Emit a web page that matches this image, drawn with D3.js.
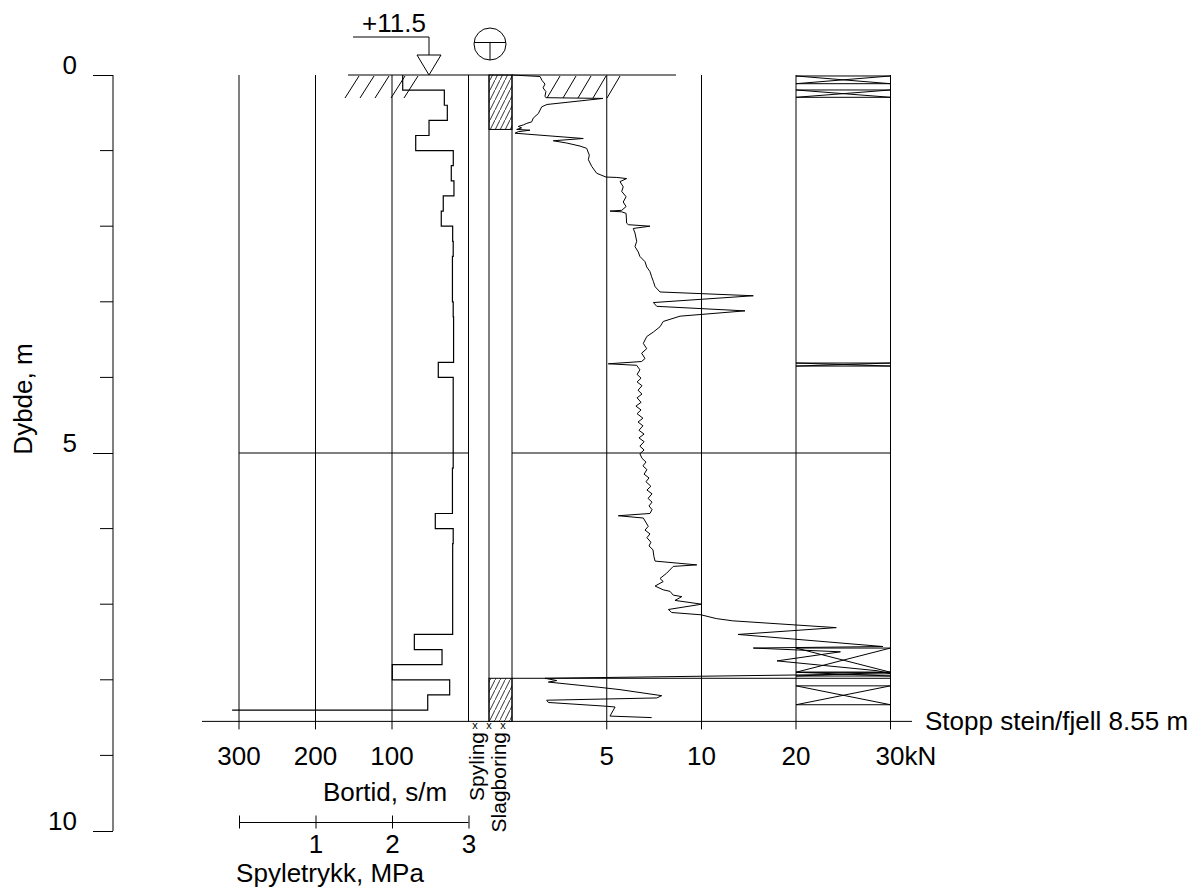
<!DOCTYPE html>
<html>
<head>
<meta charset="utf-8">
<script src="https://cdn.jsdelivr.net/npm/d3@7"></script>
<style>
  body { margin: 0; background: #fff; }
  svg { display: block; font-family: "Liberation Sans", Arial, sans-serif; }
  text { fill: #000; }
</style>
</head>
<body>
<svg id="canvas"></svg>
<script>
// depth axis
const depthMajor = [0, 5, 10];
const depthMinor = [1, 2, 3, 4, 6, 7, 8, 9];
const stopDepth = 8.55;

// bortid (s/m), one value per 0.2 m interval
const bortidDepth = [0, 0.2, 0.4, 0.6, 0.8, 1.0, 1.2, 1.4, 1.6, 1.8, 2.0, 2.2, 2.4, 2.6, 2.8, 3.0, 3.2, 3.4, 3.6, 3.8, 4.0,
  4.2, 4.4, 4.6, 4.8, 5.0, 5.2, 5.4, 5.6, 5.8, 6.0, 6.2, 6.4, 6.6, 6.8, 7.0, 7.2, 7.4, 7.6, 7.8, 8.0, 8.2, 8.4];
const bortidValue = [86, 31.6, 27.7, 51.6, 69, 19.9, 22.5, 19, 33, 35.6, 20.7, 20, 21, 21, 21, 20, 19.5, 19.5, 19.5, 39.5, 20,
  20, 20, 20, 20, 20, 21, 21, 21, 43.4, 20, 20.7, 20.7, 20.7, 20.7, 20.7, 20.7, 70.8, 34.6, 99.6, 24.6, 53.3, 309];

// nedpressingskraft (kN)
const forceDepth = [0, 0.02, 0.07, 0.12, 0.17, 0.22, 0.28, 0.30, 0.31, 0.39, 0.42, 0.51, 0.57, 0.62, 0.64, 0.66, 0.68,
  0.70, 0.72, 0.73, 0.75, 0.77, 0.84, 0.87, 0.90, 0.94, 0.97, 1.06, 1.12, 1.21, 1.30, 1.35, 1.355, 1.37, 1.41, 1.48,
  1.54, 1.61, 1.68, 1.74, 1.79, 1.80, 1.81, 1.83, 1.96, 1.98, 2.00, 2.03, 2.09, 2.20, 2.27, 2.34, 2.40, 2.47, 2.54,
  2.60, 2.67, 2.73, 2.80, 2.87, 2.92, 3.01, 3.06, 3.12, 3.19, 3.26, 3.33, 3.40, 3.46, 3.55, 3.62, 3.68, 3.75, 3.79,
  3.82, 3.84, 3.90, 3.96, 4.01, 4.06, 4.11, 4.17, 4.22, 4.27, 4.33, 4.38, 4.43, 4.48, 4.54, 4.59, 4.64, 4.70, 4.75,
  4.80, 4.85, 4.91, 4.96, 5.01, 5.07, 5.12, 5.17, 5.22, 5.28, 5.33, 5.38, 5.44, 5.49, 5.54, 5.60, 5.65, 5.70, 5.75,
  5.80, 5.83, 5.86, 5.97, 6.02, 6.07, 6.12, 6.18, 6.23, 6.28, 6.37, 6.43, 6.48, 6.50, 6.59, 6.66, 6.70, 6.76, 6.81,
  6.83, 6.88, 6.90, 6.95, 7.00, 7.07, 7.11, 7.14, 7.19, 7.22, 7.31, 7.40, 7.56, 7.58, 7.63, 7.75, 7.88, 7.92, 7.98,
  8.01, 8.03, 8.10, 8.13, 8.21, 8.24, 8.27, 8.30, 8.35, 8.36, 8.44, 8.48, 8.50];
const forceKN = [0, 1.48, 1.58, 1.74, 1.64, 1.79, 1.74, 1.79, 4.80, 1.85, 1.57, 1.39, 1.12, 1.04, 0.78, 0.60, 0.33,
  0.51, 0.25, 0.95, 0.33, 0.16, 3.76, 2.18, 2.89, 3.59, 3.94, 4.08, 4.03, 4.21, 4.47, 4.96, 5.53, 6.05, 5.70, 5.87,
  5.79, 6.02, 5.87, 6.02, 5.79, 5.17, 5.79, 6.02, 6.05, 6.14, 7.28, 6.40, 6.49, 6.58, 6.49, 6.66, 6.75, 7.02, 7.11,
  7.28, 7.37, 7.46, 7.55, 7.81, 15.48, 7.46, 7.64, 14.60, 8.87, 7.98, 7.81, 7.46, 7.11, 6.93, 7.11, 6.84, 7.02, 6.84,
  5.08, 6.58, 6.75, 6.60, 6.81, 6.60, 6.86, 6.65, 6.86, 6.60, 6.81, 6.54, 6.81, 6.60, 6.91, 6.65, 6.91, 6.70, 6.97,
  6.70, 6.97, 6.75, 6.97, 6.75, 6.86, 7.07, 6.91, 7.12, 6.97, 7.23, 7.07, 7.33, 7.12, 7.39, 7.18, 7.39, 7.23, 7.39,
  7.28, 5.61, 6.93, 7.19, 7.02, 7.28, 7.12, 7.33, 7.23, 7.44, 7.49, 7.55, 9.75, 8.51, 8.16, 7.81, 7.98, 7.55, 7.98,
  8.34, 8.51, 8.96, 8.60, 10.02, 8.25, 8.43, 9.97, 11.56, 13.31, 24.26, 13.87, 29.2, 15.48, 24.7, 17.99, 28.6, 30.0, 1.74,
  2.36, 1.92, 4.64, 5.70, 7.90, 7.64, 1.83, 1.92, 5.00, 5.44, 5.26, 5.17, 7.37];

// slagboring intervals (hatched) and dreiing intervals (crossed)
const slagTop = [0, 7.98];
const slagBottom = [0.72, 8.55];
const rotTop = [0.013, 0.198, 3.81, 7.58, 7.90, 8.08];
const rotBottom = [0.115, 0.295, 3.85, 7.90, 7.95, 8.33];
const markDepth = 7.98;

// tick labels
const bortidTicks = [300, 200, 100];
const trykkTicks = [1, 2, 3];
const forceTicks = [5, 10, 20];
const forceLast = 30;

const width = 1197, height = 895;
const fs = 26;
const svg = d3.select("#canvas").attr("width", width).attr("height", height);

const y = d3.scaleLinear().domain([0, 10]).range([75, 831]);
const xBortid = d3.scaleLinear().domain([0, 300]).range([468.5, 239]);
const xTrykk = d3.scaleLinear().domain([0, 3]).range([239, 468.5]);
const xForce = d3.scaleLinear().domain([0, 10, 30]).range([512, 701.5, 890.5]);
const colA = 489, colB = 512; // spyling | slagboring columns

const yStop = y(stopDepth);

const line = (x1, y1, x2, y2, w) =>
  svg.append("line").attr("x1", x1).attr("y1", y1).attr("x2", x2).attr("y2", y2)
    .attr("stroke", "#000").attr("stroke-width", w || 1);

const defs = svg.append("defs");
defs.append("pattern").attr("id", "hatch").attr("patternUnits", "userSpaceOnUse")
  .attr("width", 5).attr("height", 10)
  .append("path").attr("d", "M-0.5,11 L5.5,-1").attr("stroke", "#000").attr("stroke-width", 0.8);

// depth axis
const yAxis = d3.axisLeft(y).tickValues(depthMajor).tickSize(20).tickFormat(d3.format("d"));
const gy = svg.append("g").attr("transform", "translate(113,0)").call(yAxis);
gy.select(".domain").attr("d", `M0,${y(0)}V${y(10)}`);
gy.selectAll(".tick text").attr("font-size", fs).attr("x", -36).attr("dy", "-0.05em").attr("font-family", null);
gy.append("g").selectAll("line").data(depthMinor).join("line")
  .attr("x1", -13).attr("x2", 0).attr("y1", d => y(d)).attr("y2", d => y(d)).attr("stroke", "#000");

svg.append("text").attr("transform", `translate(32,399) rotate(-90)`)
  .attr("text-anchor", "middle").attr("font-size", fs).text("Dybde, m");

// bortid grid
bortidTicks.forEach(v => line(xBortid(v), y(0), xBortid(v), yStop + 8));
line(xBortid(0), y(0), xBortid(0), yStop);
line(colA, y(0), colA, yStop);
line(colB, y(0), colB, yStop);
forceTicks.concat([forceLast]).forEach(v => line(xForce(v), y(0), xForce(v), yStop + 8));

// 5 m line
line(xBortid(300), y(5), xBortid(0), y(5));
line(colB, y(5), xForce(forceLast), y(5));

// hatched slagboring intervals
slagTop.forEach((t, i) => {
  svg.append("rect").attr("x", colA).attr("y", y(t)).attr("width", colB - colA)
    .attr("height", y(slagBottom[i]) - y(t)).attr("fill", "url(#hatch)").attr("stroke", "#000");
});

// dreiing crosses
rotTop.forEach((t, i) => {
  const x1 = xForce(20), x2 = xForce(forceLast), y1 = y(t), y2 = y(rotBottom[i]);
  line(x1, y1, x2, y1); line(x1, y2, x2, y2);
  line(x1, y1, x2, y2); line(x1, y2, x2, y1);
});
line(colB, y(markDepth), xForce(forceLast), y(markDepth));

// bortid step profile
const bortidPts = [];
bortidDepth.forEach((d, i) => {
  const d2 = i < bortidDepth.length - 1 ? bortidDepth[i + 1] : d;
  bortidPts.push([bortidValue[i], d], [bortidValue[i], d2]);
});
svg.append("path").datum(bortidPts)
  .attr("d", d3.line().x(p => xBortid(p[0])).y(p => y(p[1])))
  .attr("fill", "none").attr("stroke", "#000").attr("stroke-width", 1.2);

// force profile
const forcePts = forceDepth.map((d, i) => [forceKN[i], d]);
svg.append("path").datum(forcePts)
  .attr("d", d3.line().x(p => xForce(p[0])).y(p => y(p[1])))
  .attr("fill", "none").attr("stroke", "#000").attr("stroke-width", 1).attr("stroke-linejoin", "round");

// ground line and terrain hatches
line(348, y(0), 676, y(0), 1.2);
[345, 360, 375, 391, 404].forEach(x => line(x, y(0) + 23, x + 14, y(0) + 1));
[547, 563, 578, 593, 607].forEach(x => line(x, y(0) + 23, x + 13, y(0) + 1));

// bottom line
line(202, yStop, 912, yStop);
svg.append("text").attr("x", 925).attr("y", yStop + 9).attr("font-size", fs).text("Stopp stein/fjell 8.55 m");

// terrain level marker
svg.append("text").attr("x", 362).attr("y", 32).attr("font-size", fs).text("+11.5");
svg.append("path").attr("d", "M353,37 H429 V55").attr("fill", "none").attr("stroke", "#000");
svg.append("path").attr("d", "M417,55 H441 L429,75 Z").attr("fill", "#fff").attr("stroke", "#000");

// total sounding symbol
svg.append("circle").attr("cx", 490).attr("cy", 44).attr("r", 16).attr("fill", "none").attr("stroke", "#000");
line(474.2, 42.5, 505.8, 42.5);
line(490, 42.5, 490, 60);

// bottom axis labels
svg.append("g").selectAll("text").data(bortidTicks).join("text")
  .attr("x", d => xBortid(d)).attr("y", 765).attr("text-anchor", "middle").attr("font-size", fs).text(d => d);
svg.append("text").attr("x", 385).attr("y", 801)
  .attr("text-anchor", "middle").attr("font-size", fs).text("Bortid, s/m");

svg.append("g").selectAll("text").data(forceTicks).join("text")
  .attr("x", d => xForce(d)).attr("y", 765).attr("text-anchor", "middle").attr("font-size", fs).text(d => d);
svg.append("text").attr("x", xForce(forceLast) - 15).attr("y", 765).attr("font-size", fs).text(forceLast + "kN");

// spyletrykk axis
const trykkAxis = d3.axisBottom(xTrykk).tickValues([0].concat(trykkTicks)).tickSize(0).tickFormat(d => d ? d : "");
const gt = svg.append("g").attr("transform", "translate(0,822.5)").call(trykkAxis);
gt.select(".domain").attr("d", `M${xTrykk(0)},0H${xTrykk(3)}`);
gt.selectAll(".tick line").attr("y1", -7).attr("y2", 6);
gt.selectAll(".tick text").attr("font-size", fs).attr("y", 30).attr("dy", null).attr("font-family", null);
svg.append("text").attr("x", 330).attr("y", 882).attr("text-anchor", "middle").attr("font-size", fs).text("Spyletrykk, MPa");

// column labels
[475, 489, 503].forEach(x => svg.append("text").attr("x", x).attr("y", 729)
  .attr("text-anchor", "middle").attr("font-size", 11).text("x"));
svg.append("text").attr("transform", "translate(484,732) rotate(-90)").attr("text-anchor", "end")
  .attr("font-size", 21).text("Spyling");
svg.append("text").attr("transform", "translate(506,732) rotate(-90)").attr("text-anchor", "end")
  .attr("font-size", 21).text("Slagboring");
</script>
</body>
</html>
